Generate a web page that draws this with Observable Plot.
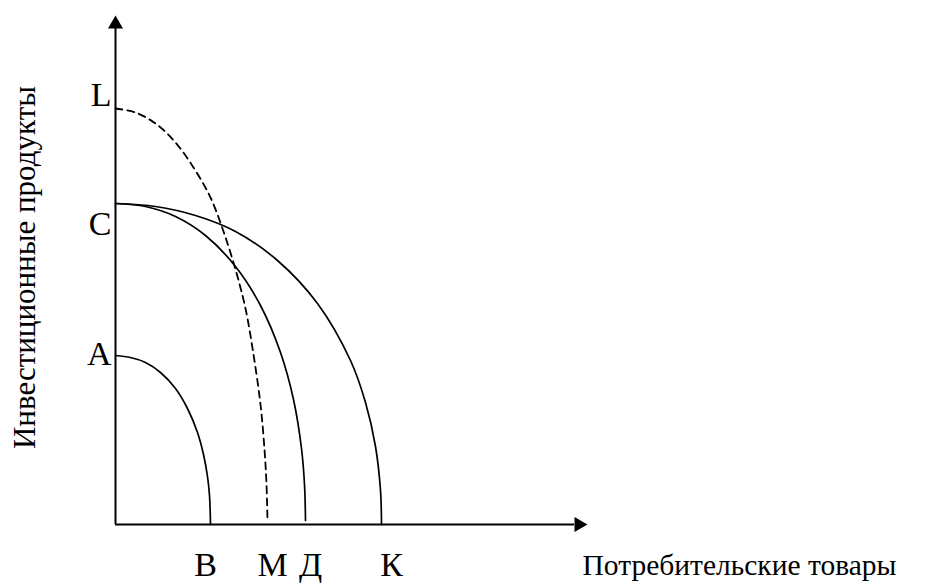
<!DOCTYPE html>
<html><head><meta charset="utf-8">
<script src="https://cdn.jsdelivr.net/npm/d3@7"></script>
<script src="https://cdn.jsdelivr.net/npm/@observablehq/plot@0.6"></script>
<style>html,body{margin:0;padding:0;background:#fff;}</style>
</head><body><div id="chart"></div>
<script>
// axis extents (units)
const xMax = 472, yMax = 509;

// production possibility curves (units from origin)
const abX = [0, 15, 30, 45, 60, 72, 82, 88, 92, 94, 95];
const abY = [169, 167, 162, 152, 136, 116, 92, 70, 48, 29, 0];

const cdX = [0, 30, 60, 90, 120, 145, 165, 178, 186, 189, 190];
const cdY = [321, 318, 308, 289, 258, 219, 172, 125, 76, 40, 4];

const ckX = [0, 40, 80, 120, 162, 202, 235, 250, 260, 265, 266];
const ckY = [321, 318, 309, 293, 264, 221, 164, 122, 78, 34, 0];

const lmX = [0, 20, 40, 60, 78, 95, 108, 120, 130, 138, 145, 149, 151, 152];
const lmY = [416, 412, 401, 382, 357, 327, 293, 255, 216, 170, 120, 75, 40, 3];

// labels
const yLabels = ["L", "C", "A"];
const yLabelY = [429, 300, 170];
const xLabels = ["В", "М", "Д", "К"];
const xLabelX = [90, 157, 195, 276];
const xTitle = "Потребительские товары";
const yTitle = "Инвестиционные продукты";

const toPts = (xs, ys) => xs.map((x, i) => ({x, y: ys[i]}));
const solid = [toPts(abX, abY), toPts(cdX, cdY), toPts(ckX, ckY)];
const dashed = toPts(lmX, lmY);

const font = "Liberation Serif, Times New Roman, serif";

const plot = Plot.plot({
  width: 926,
  height: 586,
  marginLeft: 115,
  marginRight: 926 - 587,
  marginTop: 15,
  marginBottom: 586 - 524,
  x: {domain: [0, xMax], axis: null},
  y: {domain: [0, yMax], axis: null},
  style: {fontFamily: font, background: "#fff", overflow: "visible"},
  marks: [
    // axes
    Plot.ruleX([0], {y1: 0, y2: yMax - 13, stroke: "#000", strokeWidth: 2}),
    Plot.ruleY([0], {x1: 0, x2: xMax - 13, stroke: "#000", strokeWidth: 2}),
    Plot.dot([{x: 0, y: yMax}], {x: "x", y: "y", symbol: "triangle", r: 5.57, fill: "#000", dy: 8.66}),
    Plot.dot([{x: xMax, y: 0}], {x: "x", y: "y", symbol: "triangle", r: 5.57, fill: "#000", rotate: 90, dx: -8.66}),
    // curves
    ...solid.map(pts => Plot.line(pts, {x: "x", y: "y", curve: "catmull-rom", stroke: "#000", strokeWidth: 1.7})),
    Plot.line(dashed, {x: "x", y: "y", curve: "catmull-rom", stroke: "#000", strokeWidth: 1.8, strokeDasharray: "7,5"}),
    // y point labels
    Plot.text(yLabels.map((t, i) => ({t, y: yLabelY[i]})), {x: () => 0, y: "y", text: "t", textAnchor: "end", dx: -4, fontSize: 34, fill: "#000"}),
    // x point labels
    Plot.text(xLabels.map((t, i) => ({t, x: xLabelX[i]})), {x: "x", y: () => 0, text: "t", dy: 41, fontSize: 34, fill: "#000"}),
    // axis titles
    Plot.text([xTitle], {x: () => xMax - 5, y: () => 0, text: d => d, textAnchor: "start", dy: 41, fontSize: 29.5, fill: "#000"}),
    Plot.text([yTitle], {x: () => 0, y: () => 257, text: d => d, rotate: -90, dx: -90, fontSize: 31, fill: "#000"})
  ]
});
document.getElementById("chart").appendChild(plot);
</script>
</body></html>
